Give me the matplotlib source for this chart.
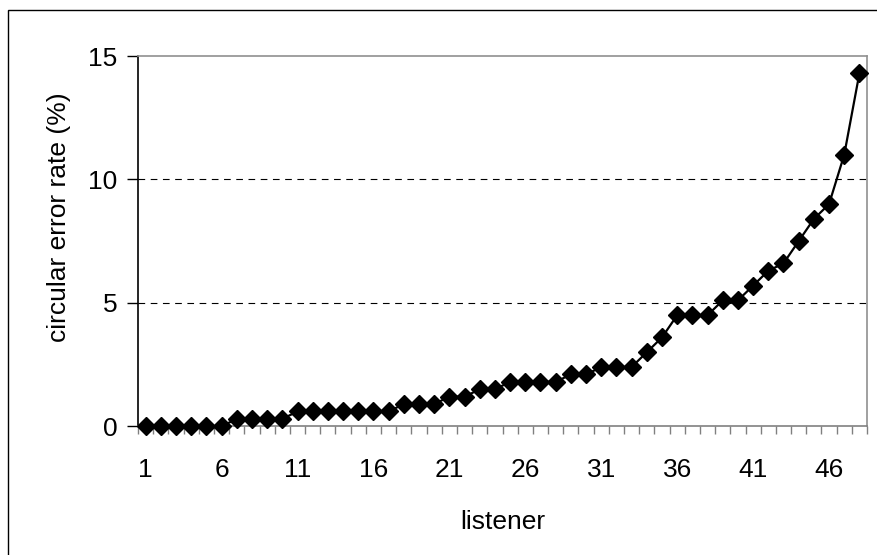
import matplotlib.pyplot as plt
from matplotlib.patches import Rectangle

# data
listener = list(range(1, 49))
error_rate = [0, 0, 0, 0, 0, 0, 0.3, 0.3, 0.3, 0.3,
              0.6, 0.6, 0.6, 0.6, 0.6, 0.6, 0.6, 0.9, 0.9, 0.9,
              1.2, 1.2, 1.5, 1.5, 1.8, 1.8, 1.8, 1.8, 2.1, 2.1,
              2.4, 2.4, 2.4, 3.0, 3.6, 4.5, 4.5, 4.5, 5.1, 5.1,
              5.7, 6.3, 6.6, 7.5, 8.4, 9.0, 11.0, 14.3]
x_tick_labels = ["1", "6", "11", "16", "21", "26", "31", "36", "41", "46"]
y_ticks = [0, 5, 10, 15]

plt.rcParams['font.family'] = ['Liberation Sans', 'DejaVu Sans']

fig = plt.figure(figsize=(8.77, 5.55), dpi=100)
ax = fig.add_axes([0.1574, 0.2319, 0.8312, 0.6671])

# outer chart frame (cut by the image edge at right/bottom)
fig.patches.append(Rectangle((0.009, -0.1), 1.2, 1.082, transform=fig.transFigure,
                             fill=False, edgecolor="black", linewidth=1.0))

ax.plot(listener, error_rate, color="black", linewidth=1.6, marker="D",
        markersize=9.5, zorder=5, clip_on=False)

ax.set_xlim(0.5, 48.5)
ax.set_ylim(0, 15)

# category-style ticks between points, labels every 5
ax.set_xticks([i + 0.5 for i in range(0, 49)], minor=False)
ax.set_xticklabels([])
ax.set_xticks([1, 6, 11, 16, 21, 26, 31, 36, 41, 46], minor=True)
ax.set_xticklabels(x_tick_labels, minor=True)
ax.tick_params(axis="x", which="major", direction="out", length=6, width=1, color="#808080")
ax.tick_params(axis="x", which="minor", length=0, labelsize=19, pad=23)

ax.set_yticks(y_ticks)
ax.tick_params(axis="y", direction="out", length=8, width=1, labelsize=19, pad=7)

for y in [5, 10]:
    ax.axhline(y, color="black", linestyle=(0, (6, 5)), linewidth=0.8, zorder=1)

ax.spines["left"].set_color("black")
ax.spines["bottom"].set_color("#808080")
ax.spines["top"].set_color("#909090")
ax.spines["right"].set_color("#909090")
for s in ax.spines.values():
    s.set_linewidth(1.2)

ax.set_xlabel("listener", fontsize=19, labelpad=20)
ax.set_ylabel("circular error rate (%)", fontsize=19, labelpad=11)
ax.yaxis.set_label_coords(-0.092, 0.565)

plt.savefig("out.png", dpi=100)
